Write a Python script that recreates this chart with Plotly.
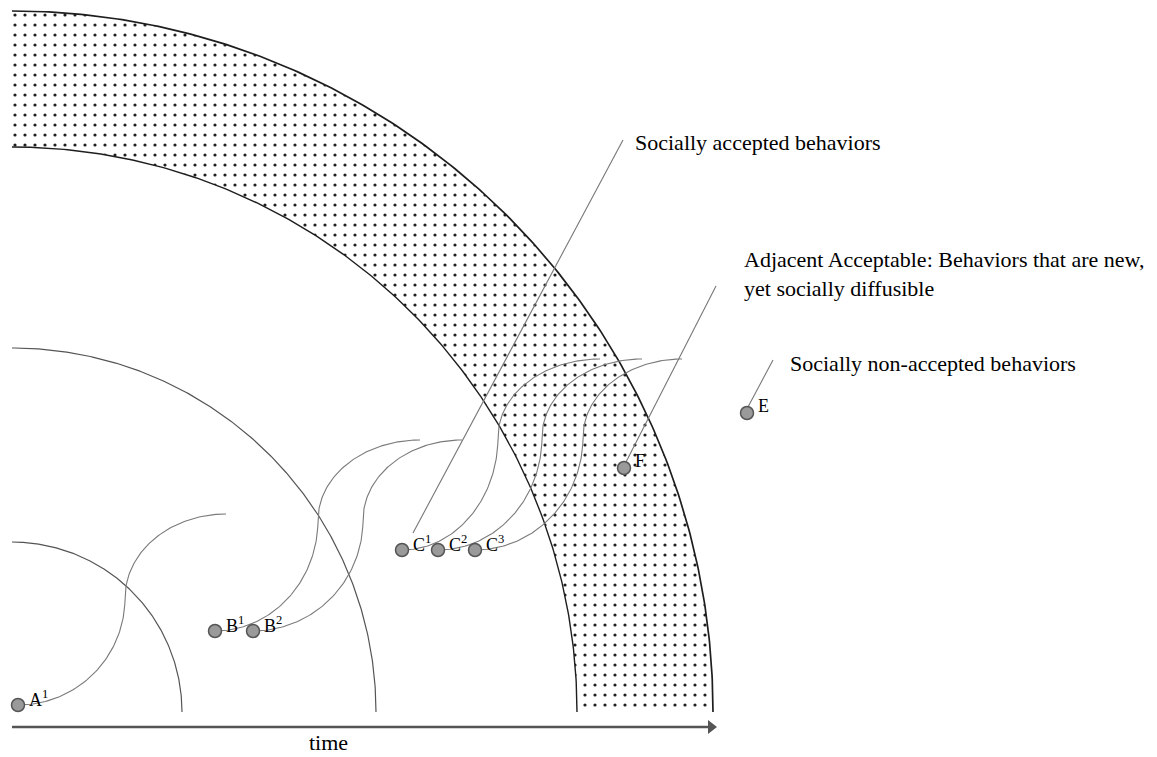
import numpy as np
import plotly.graph_objects as go

# ---------------- data (reference pixel coordinates) ----------------
ring_center_x = 12
ring_center_y = 712
ring_radii = [170, 364]          # plain rings
band_inner_r = 565               # dotted band
band_outer_r = 701

point_names = ["A", "B", "B", "C", "C", "C", "F", "E"]
point_sups = ["1", "1", "2", "1", "2", "3", "", ""]
point_x = [18, 215, 253, 402, 438, 475, 624, 747]
point_y = [705, 631, 631, 550, 550, 550, 468, 413]

# trajectories (S-curves) from each point to the next ring
traj_start = [0, 1, 2, 3, 4, 5]
traj_infl_x = [125, 318, 363, 498, 542, 583]
traj_infl_y = [598, 520, 520, 437, 437, 437]
traj_end_x = [226, 420, 462, 600, 642, 682]
traj_end_y = [514, 440, 440, 359, 359, 359]

callout_texts = [
    "Socially accepted behaviors",
    "Adjacent Acceptable: Behaviors that are new,<br>yet socially diffusible",
    "Socially non-accepted behaviors",
]
callout_text_x = [633, 742, 788]
callout_text_y = [142, 274, 363]
callout_x0 = [413, 626, 748]
callout_y0 = [533, 462, 407]
callout_x1 = [623, 716, 773]
callout_y1 = [140, 286, 360]

axis_x0, axis_x1, axis_y = 12, 717, 727
axis_label = "time"
axis_label_x, axis_label_y = 328, 742

W, H = 1157, 757

# ---------------- figure ----------------
SERIF = "Liberation Serif, Times New Roman, serif"
fig = go.Figure()

theta = np.linspace(0, np.pi / 2, 240)


def arc(r, th):
    return ring_center_x + r * np.cos(th), ring_center_y - r * np.sin(th)


# dotted band
ox, oy = arc(band_outer_r, theta)
ix, iy = arc(band_inner_r, theta[::-1])
fig.add_trace(go.Scatter(
    x=np.concatenate([ox, ix]), y=np.concatenate([oy, iy]),
    mode="lines", fill="toself", line=dict(width=0, color="rgba(0,0,0,0)"),
    fillcolor="white",
    fillpattern=dict(shape=".", size=10, solidity=0.08, fgcolor="#1f1f1f",
                     bgcolor="white", fgopacity=1),
    hoverinfo="skip"))
# band edges
for r, w in [(band_inner_r, 1.4), (band_outer_r, 1.7)]:
    x, y = arc(r, theta)
    fig.add_trace(go.Scatter(x=x, y=y, mode="lines",
                             line=dict(color="#1e1e1e", width=w), hoverinfo="skip"))
# plain rings
for r in ring_radii:
    x, y = arc(r, theta)
    fig.add_trace(go.Scatter(x=x, y=y, mode="lines",
                             line=dict(color="#555", width=1.2), hoverinfo="skip"))

# trajectories
t = np.linspace(0, np.pi / 2, 80)
for k, si in enumerate(traj_start):
    sx, sy = point_x[si], point_y[si]
    qx, qy = traj_infl_x[k], traj_infl_y[k]
    ex, ey = traj_end_x[k], traj_end_y[k]
    x1 = sx + (qx - sx) * np.sin(t)
    y1 = qy + (sy - qy) * np.cos(t)
    x2 = ex - (ex - qx) * np.cos(t)
    y2 = qy - (qy - ey) * np.sin(t)
    fig.add_trace(go.Scatter(x=np.concatenate([x1, x2]), y=np.concatenate([y1, y2]),
                             mode="lines", line=dict(color="#7a7a7a", width=1.1),
                             hoverinfo="skip"))

# callout lines
for k in range(len(callout_texts)):
    fig.add_trace(go.Scatter(x=[callout_x0[k], callout_x1[k]],
                             y=[callout_y0[k], callout_y1[k]], mode="lines",
                             line=dict(color="#777", width=1.1), hoverinfo="skip"))

# time axis
fig.add_trace(go.Scatter(x=[axis_x0, axis_x1 - 8], y=[axis_y, axis_y], mode="lines",
                         line=dict(color="#555", width=2.6), hoverinfo="skip"))
fig.add_trace(go.Scatter(x=[axis_x1 - 6], y=[axis_y], mode="markers",
                         marker=dict(symbol="triangle-right", size=12, color="#555",
                                     line=dict(width=0)), hoverinfo="skip"))

# points
fig.add_trace(go.Scatter(x=point_x, y=point_y, mode="markers",
                         marker=dict(size=13, color="#9a9a9a",
                                     line=dict(color="#555", width=1.5)),
                         hoverinfo="skip"))

annotations = []
for n, s, x, y in zip(point_names, point_sups, point_x, point_y):
    txt = n + (f"<sup>{s}</sup>" if s else "")
    annotations.append(dict(x=x + 9, y=y - 7, text=txt, showarrow=False,
                            xanchor="left", yanchor="middle",
                            font=dict(family=SERIF, size=18, color="#000")))
for k, txt in enumerate(callout_texts):
    annotations.append(dict(x=callout_text_x[k], y=callout_text_y[k], text=txt,
                            showarrow=False, xanchor="left", yanchor="middle",
                            align="left",
                            font=dict(family=SERIF, size=22, color="#000")))
annotations.append(dict(x=axis_label_x, y=axis_label_y, text=axis_label,
                        showarrow=False, xanchor="center", yanchor="middle",
                        font=dict(family=SERIF, size=22, color="#000")))

fig.update_layout(
    width=W, height=H,
    margin=dict(l=0, r=0, t=0, b=0, pad=0),
    paper_bgcolor="white", plot_bgcolor="white",
    showlegend=False,
    hovermode=False,
    xaxis=dict(range=[0, W], visible=False, fixedrange=True),
    yaxis=dict(range=[H, 0], visible=False, fixedrange=True),
    annotations=annotations,
)

fig.write_html(
    "out.html",
    config={"displayModeBar": False, "staticPlot": True},
    post_script="document.body.style.margin='0';document.body.style.overflow='hidden';",
)
